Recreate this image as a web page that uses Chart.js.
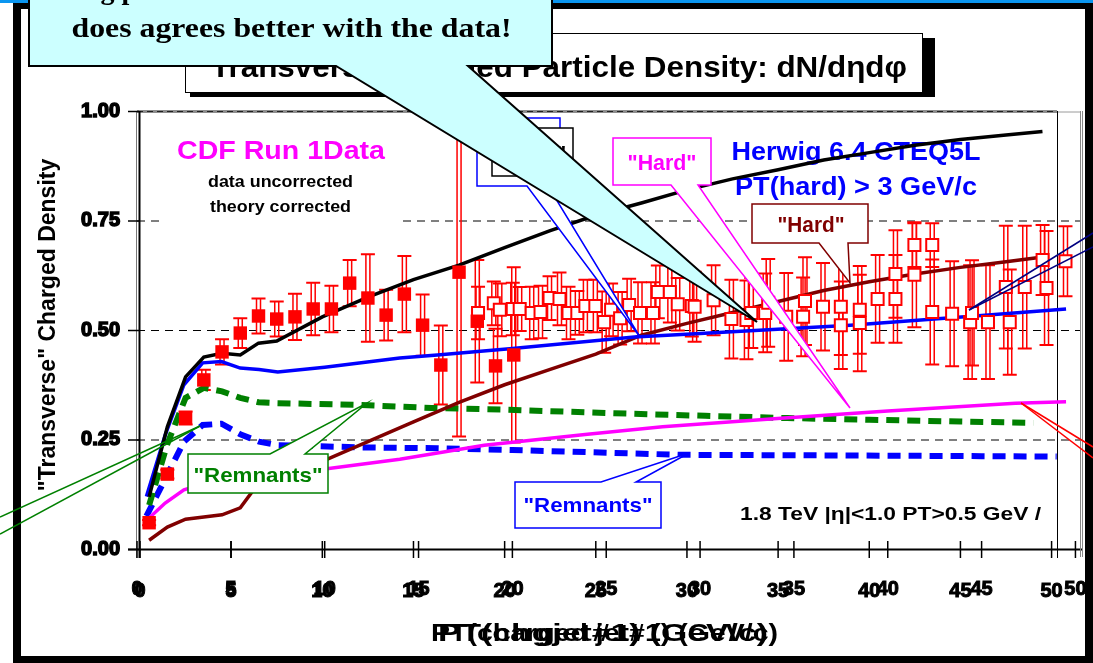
<!DOCTYPE html>
<html>
<head>
<meta charset="utf-8">
<title>Transverse Charged Particle Density</title>
<script src="https://cdn.jsdelivr.net/npm/chart.js@4.4.0/dist/chart.umd.min.js"></script>
<style>
  html, body { margin: 0; padding: 0; background: #fff; overflow: hidden; }
  #wrap { width: 1093px; height: 663px; position: relative; }
  canvas { display: block; }
</style>
</head>
<body>
<div id="wrap"><canvas id="c" width="1093" height="663"></canvas></div>
<script>
// ---------- values ----------
// CDF Run 1 data vs PT(charged jet#1): filled squares
const dataX   = [0.5, 1.5, 2.5, 3.5, 4.5, 5.5, 6.5, 7.5, 8.5, 9.5, 10.5, 11.5, 12.5, 13.5, 14.5, 15.5, 16.5, 17.5, 18.5, 19.5, 20.5];
const dataY   = [0.06, 0.171, 0.299, 0.386, 0.45, 0.493, 0.532, 0.525, 0.53, 0.548, 0.548, 0.607, 0.573, 0.534, 0.582, 0.511, 0.42, 0.632, 0.52, 0.418, 0.443];
const dataErr = [0.006, 0.01, 0.015, 0.023, 0.029, 0.034, 0.04, 0.04, 0.053, 0.06, 0.053, 0.053, 0.1, 0.058, 0.087, 0.07, 0.09, 0.375, 0.14, 0.085, 0.2];

// second data set (open squares), on the overlaid PT axis
const openX = [18.17, 19.01, 19.33, 20.02, 20.39, 21.03, 21.5, 21.98, 22.51, 22.99, 23.46, 23.89, 24.42, 24.89, 25.26, 25.74, 26.22, 26.8, 27.49, 27.75,
               28.39, 28.81, 29.56, 29.71, 30.72, 31.67, 32.47, 32.73, 33.47, 33.63, 34.59, 35.49, 35.59, 36.55, 37.5, 37.5, 38.51, 38.51, 39.46, 40.41,
               40.41, 41.42, 41.42, 42.37, 42.37, 43.43, 44.39, 44.49, 45.34, 46.29, 46.5, 47.3, 48.25, 48.46, 49.47];
const openY = [0.539, 0.561, 0.546, 0.548, 0.548, 0.539, 0.541, 0.573, 0.571, 0.539, 0.539, 0.555, 0.555, 0.518, 0.546, 0.527, 0.557, 0.539, 0.539, 0.587,
               0.587, 0.559, 0.555, 0.553, 0.568, 0.525, 0.523, 0.539, 0.539, 0.562, 0.53, 0.53, 0.566, 0.553, 0.511, 0.553, 0.546, 0.516, 0.571, 0.571,
               0.628, 0.694, 0.626, 0.694, 0.541, 0.537, 0.518, 0.539, 0.518, 0.598, 0.518, 0.598, 0.66, 0.596, 0.657];
const openErr = [0.06, 0.05, 0.06, 0.06, 0.05, 0.06, 0.06, 0.05, 0.06, 0.06, 0.05, 0.06, 0.06, 0.07, 0.06, 0.06, 0.06, 0.07, 0.07, 0.06,
                 0.07, 0.06, 0.07, 0.08, 0.08, 0.09, 0.09, 0.08, 0.09, 0.1, 0.1, 0.09, 0.1, 0.1, 0.1, 0.11, 0.1, 0.11, 0.1, 0.1,
                 0.1, 0.05, 0.12, 0.05, 0.12, 0.12, 0.13, 0.12, 0.13, 0.14, 0.12, 0.14, 0.08, 0.13, 0.08];

// Herwig 6.4 CTEQ5L, PT(hard) > 3 GeV/c : total (black)
const totalX = [0.5, 1.5, 2.5, 3.5, 4.5, 5.5, 6.5, 7.5, 10, 12.5, 15, 17.5, 20, 22.5, 25, 27.5, 30, 32.5, 35, 37.5, 40, 42.5, 45, 47.5, 49.5];
const totalY = [0.119, 0.279, 0.393, 0.438, 0.447, 0.443, 0.47, 0.475, 0.53, 0.575, 0.615, 0.648, 0.688, 0.727, 0.762, 0.79, 0.82, 0.845, 0.866, 0.888, 0.905, 0.922, 0.935, 0.945, 0.953];
// "Hard" component (dark red)
const hardX = [0.5, 1.5, 2.5, 3.5, 4.5, 5.5, 6.5, 8, 10, 12.5, 15, 17.5, 20, 22.5, 25, 27.5, 30, 32.5, 35, 37.5, 40, 42.5, 45, 47.5, 49.2];
const hardY = [0.02, 0.05, 0.068, 0.073, 0.078, 0.094, 0.15, 0.175, 0.2, 0.245, 0.29, 0.335, 0.375, 0.41, 0.445, 0.488, 0.515, 0.54, 0.565, 0.59, 0.61, 0.628, 0.643, 0.656, 0.665];
// "Remnants" component (green, dashed)
const remX = [0.5, 1.5, 2.5, 3.5, 4.5, 5.5, 6.5, 7.5, 12, 16, 20, 26, 31, 35.5, 40, 45, 49];
const remY = [0.1, 0.24, 0.345, 0.368, 0.36, 0.345, 0.335, 0.333, 0.329, 0.322, 0.318, 0.31, 0.304, 0.299, 0.295, 0.291, 0.288];

// second Herwig set on the overlaid PT axis: total (blue)
const total2X = [0.5, 1.5, 2.5, 3.5, 4.5, 5.5, 6.5, 7.5, 10, 14, 16, 20, 26.5, 30, 38, 45, 49.5];
const total2Y = [0.12, 0.26, 0.375, 0.425, 0.428, 0.413, 0.41, 0.404, 0.415, 0.436, 0.443, 0.458, 0.484, 0.492, 0.511, 0.533, 0.548];
// "Hard" (magenta)
const hard2X = [0.5, 1.5, 2.5, 3.5, 5, 9.5, 14, 18.5, 24, 28, 34.5, 40, 46.8, 49.5];
const hard2Y = [0.065, 0.105, 0.135, 0.148, 0.158, 0.18, 0.205, 0.237, 0.262, 0.279, 0.299, 0.315, 0.333, 0.336];
// "Remnants" (blue, dashed)
const rem2X = [0.5, 1.5, 2.5, 3.5, 4.5, 5.5, 6.5, 7.5, 12, 16, 20, 29, 35, 40, 45, 49];
const rem2Y = [0.075, 0.16, 0.245, 0.283, 0.286, 0.262, 0.245, 0.237, 0.232, 0.23, 0.226, 0.215, 0.214, 0.213, 0.212, 0.211];

const xTicks = [0, 5, 10, 15, 20, 25, 30, 35, 40, 45, 50];
const yTicks = [0, 0.25, 0.5, 0.75, 1.0];

// ---------- drawing helpers ----------
const SANS = '"Liberation Sans", Arial, Helvetica, sans-serif';
const SERIF = '"Liberation Serif", "Times New Roman", serif';

function pts(xs, ys) { return xs.map((x, i) => ({ x: x, y: ys[i] })); }

// text of a given size, squeezed/stretched horizontally to a given width
function text(ctx, str, x, y, o) {
  ctx.save();
  ctx.font = (o.weight || 'bold') + ' ' + o.size + 'px ' + (o.family || SANS);
  ctx.fillStyle = o.color || '#000';
  ctx.textBaseline = 'alphabetic';
  ctx.textAlign = 'left';
  const w = ctx.measureText(str).width;
  const sx = o.width ? o.width / w : 1;
  const align = o.align || 'center';
  const left = align === 'center' ? x - w * sx / 2 : (align === 'right' ? x - w * sx : x);
  ctx.translate(left, y);
  ctx.scale(sx, 1);
  ctx.fillText(str, 0, 0);
  ctx.restore();
}

function line(ctx, x0, y0, x1, y1, color, lw, dash) {
  ctx.save();
  ctx.strokeStyle = color; ctx.lineWidth = lw;
  ctx.setLineDash(dash || []);
  ctx.beginPath(); ctx.moveTo(x0, y0); ctx.lineTo(x1, y1); ctx.stroke();
  ctx.restore();
}

// rectangular label box with a pointer leaving its top or bottom edge
function callout(ctx, b, fill, stroke, lw) {
  ctx.save();
  ctx.beginPath();
  if (b.side === 'bottom') {
    ctx.moveTo(b.x0, b.y0); ctx.lineTo(b.x1, b.y0); ctx.lineTo(b.x1, b.y1);
    ctx.lineTo(b.b2, b.y1); ctx.lineTo(b.tip[0], b.tip[1]); ctx.lineTo(b.b1, b.y1);
    ctx.lineTo(b.x0, b.y1);
  } else if (b.side === 'top') {
    ctx.moveTo(b.x0, b.y0); ctx.lineTo(b.b1, b.y0); ctx.lineTo(b.tip[0], b.tip[1]);
    ctx.lineTo(b.b2, b.y0); ctx.lineTo(b.x1, b.y0); ctx.lineTo(b.x1, b.y1); ctx.lineTo(b.x0, b.y1);
  } else {
    ctx.rect(b.x0, b.y0, b.x1 - b.x0, b.y1 - b.y0);
  }
  ctx.closePath();
  ctx.fillStyle = fill; ctx.fill();
  ctx.strokeStyle = stroke; ctx.lineWidth = lw; ctx.lineJoin = 'miter';
  ctx.stroke();
  ctx.restore();
}

function errorBars(ctx, xs, ys, es, xScale, yScale) {
  ctx.save();
  ctx.strokeStyle = '#FF0000';
  ctx.lineWidth = 1.5;
  for (let i = 0; i < xs.length; i++) {
    const px = xScale.getPixelForValue(xs[i]);
    const top = yScale.getPixelForValue(ys[i] + es[i]);
    const bot = yScale.getPixelForValue(ys[i] - es[i]);
    ctx.beginPath();
    ctx.moveTo(px - 2, top); ctx.lineTo(px - 2, bot);
    ctx.moveTo(px + 2, top); ctx.lineTo(px + 2, bot);
    ctx.stroke();
    ctx.save();
    ctx.lineWidth = 2;
    ctx.beginPath();
    ctx.moveTo(px - 7, top); ctx.lineTo(px + 7, top);
    ctx.moveTo(px - 7, bot); ctx.lineTo(px + 7, bot);
    ctx.stroke();
    ctx.restore();
  }
  ctx.restore();
}

// ---------- slide decorations ----------
const slide = {
  id: 'slide',
  beforeDraw(chart) {
    const c = chart.ctx;
    c.save();
    c.fillStyle = '#fff';
    c.fillRect(0, 0, 1093, 663);
    // slide frame
    c.fillStyle = '#0A96F0';
    c.fillRect(0, 0, 1093, 3);
    c.fillStyle = '#000';
    c.fillRect(13, 3, 1080, 6);
    c.fillRect(13, 3, 8, 660);
    c.fillRect(1085, 3, 8, 660);
    c.fillRect(13, 656, 1080, 7);
    c.restore();
  },
  beforeDatasetsDraw(chart) {
    const c = chart.ctx;
    const x = chart.scales.x, x2 = chart.scales.x2, y = chart.scales.y;
    const yPx = v => y.getPixelForValue(v);

    // dashed reference lines
    [0.25, 0.5, 0.75].forEach(v => line(c, 137, yPx(v) + 0.5, 1081, yPx(v) + 0.5, '#000', 1, [8, 6]));
    line(c, 137, yPx(1) + 0.5, 1057, yPx(1) + 0.5, '#8c8c8c', 3);
    line(c, 137, yPx(1) + 0.5, 1057, yPx(1) + 0.5, '#222', 1.2, [6, 4]);
    line(c, 1057, yPx(1) + 1, 1081, yPx(1) + 1, '#9a9a9a', 1);

    // axis frames
    line(c, 136.5, yPx(1), 136.5, 558, '#777', 1);
    line(c, 139.5, yPx(1), 139.5, 558, '#000', 2);
    line(c, 128, yPx(0) + 0.5, 1082, yPx(0) + 0.5, '#000', 2);
    line(c, 1057.5, yPx(1), 1057.5, 558, '#000', 1);
    line(c, 1080.5, yPx(1), 1080.5, 557, '#888', 1);
    line(c, 1082.5, yPx(1), 1082.5, 557, '#888', 1);
    yTicks.forEach(v => line(c, 128, yPx(v) + 0.5, 139, yPx(v) + 0.5, '#000', 1.5));
    xTicks.forEach(v => {
      const p1 = x.getPixelForValue(v), p2 = x2.getPixelForValue(v);
      line(c, p1, 541, p1, 558, '#000', 1.5);
      line(c, p2, 541, p2, 558, '#000', 1.5);
    });

    // CDF label block
    c.save(); c.fillStyle = '#fff'; c.fillRect(163, 118, 235, 110); c.restore();
    text(c, 'CDF Run 1Data', 281, 159, { size: 26, width: 208, color: '#FF00FF' });
    text(c, 'data uncorrected', 280.5, 187, { size: 17, width: 145 });
    text(c, 'theory corrected', 280.5, 212, { size: 17, width: 141 });

    // Herwig label (curves run over it)
    text(c, 'Herwig 6.4 CTEQ5L', 856, 160, { size: 25, width: 249, color: '#0000FF' });
    text(c, 'PT(hard) > 3 GeV/c', 856, 195, { size: 25, width: 242, color: '#0000FF' });

    // error bars
    errorBars(c, dataX, dataY, dataErr, x, y);
    errorBars(c, openX, openY, openErr, x2, y);
  },
  afterDatasetsDraw(chart) {
    const c = chart.ctx;
    const x2 = chart.scales.x2;

    // overlaid tick labels of the second PT axis
    c.save();
    c.font = 'bold 20px ' + SANS;
    c.fillStyle = '#000'; c.strokeStyle = '#000'; c.lineWidth = 1;
    c.textAlign = 'center'; c.textBaseline = 'alphabetic';
    xTicks.forEach(v => {
      const p = x2.getPixelForValue(v);
      c.strokeText(String(v), p, 595);
      c.fillText(String(v), p, 595);
    });
    c.restore();

    // axis titles
    text(c, 'PT(charged jet#1) (GeV/c)', 431, 641, { size: 24, width: 347, align: 'left' });
    text(c, 'PT(chgjet#1) (GeV/c)', 438, 641, { size: 24, width: 330, align: 'left' });
    c.save();
    c.translate(55, 325);
    c.rotate(-Math.PI / 2);
    text(c, '"Transverse" Charged Density', 0, 0, { size: 23 });
    c.restore();

    text(c, '1.8 TeV |\u03b7|<1.0 PT>0.5 GeV /', 740, 520, { size: 19, width: 301, align: 'left' });

    // pointer lines from boxes outside the frame
    line(c, 0, 517, 200, 426, '#008000', 1.5);
    line(c, 0, 534, 200, 426, '#008000', 1.5);
    line(c, 1021, 403, 1093, 447, '#FF0000', 1.5);
    line(c, 1021, 403, 1093, 458, '#FF0000', 1.5);
    line(c, 969, 310, 1093, 233, '#000080', 1.5);
    line(c, 969, 310, 1093, 247, '#000080', 1.5);

    // component labels
    callout(c, { x0: 188, y0: 454, x1: 328, y1: 493, side: 'top', b1: 270, b2: 305, tip: [367, 403] }, '#fff', '#008000', 1.5);
    text(c, '"Remnants"', 258, 482, { size: 21, width: 129, color: '#008000' });
    callout(c, { x0: 515, y0: 482, x1: 661, y1: 528, side: 'top', b1: 601, b2: 636, tip: [689, 453] }, '#fff', '#0000FF', 1.5);
    text(c, '"Remnants"', 588, 512, { size: 21, width: 129, color: '#0000FF' });
    callout(c, { x0: 613, y0: 138, x1: 711, y1: 185, side: 'bottom', b1: 671, b2: 698, tip: [850, 408] }, '#fff', '#FF00FF', 1.5);
    text(c, '"Hard"', 662, 170, { size: 22, width: 69, color: '#FF00FF' });
    callout(c, { x0: 752, y0: 204, x1: 868, y1: 243, side: 'bottom', b1: 819, b2: 848, tip: [850, 283] }, '#fff', '#800000', 1.5);
    text(c, '"Hard"', 811, 232, { size: 22, width: 67, color: '#800000' });
    callout(c, { x0: 477, y0: 118, x1: 560, y1: 186, side: 'bottom', b1: 527, b2: 548, tip: [640, 337] }, '#fff', '#0000FF', 1.5);
    text(c, '"Total"', 518, 160, { size: 21, color: '#0000FF' });
    callout(c, { x0: 492, y0: 128, x1: 573, y1: 176 }, '#fff', '#000', 1.5);
    text(c, '"Total"', 532, 160, { size: 21, color: '#000' });
  },
  afterDraw(chart) {
    const c = chart.ctx;
    // title box with drop shadow
    c.save();
    c.fillStyle = '#000';
    c.fillRect(190, 38, 745, 59);
    c.fillStyle = '#fff';
    c.fillRect(185, 33, 737, 59);
    c.strokeStyle = '#000'; c.lineWidth = 1;
    c.strokeRect(185.5, 33.5, 737, 59);
    c.restore();
    text(c, 'Transverse Charged Particle Density: dN/d\u03b7d\u03c6', 211, 77, { size: 30, width: 696, align: 'left' });

    // comment balloon
    callout(c, { x0: 29, y0: -6, x1: 552, y1: 66, side: 'bottom', b1: 336, b2: 468, tip: [757, 322] }, '#CCFFFF', '#000', 2);
    text(c, 'Using pT > 3 GeV', 46, -1, { size: 28, family: SERIF, align: 'left' });
    text(c, 'does agrees better with the data!', 291.5, 37, { size: 28, width: 440, family: SERIF });
  }
};

// ---------- chart ----------
function curve(label, xs, ys, axis, color, width, dash, order) {
  return {
    label: label, data: pts(xs, ys), xAxisID: axis, yAxisID: 'y',
    showLine: true, borderColor: color, backgroundColor: color, borderWidth: width,
    borderDash: dash || [], pointRadius: 0, pointHoverRadius: 0, tension: 0, fill: false,
    order: order, clip: false
  };
}

const tickFont = { family: SANS, size: 20, weight: 'bold' };

new Chart(document.getElementById('c'), {
  type: 'scatter',
  data: {
    datasets: [
      {
        label: 'CDF data', data: pts(dataX, dataY), xAxisID: 'x', yAxisID: 'y',
        pointStyle: 'rect', pointRadius: 9.5, pointHoverRadius: 9.5,
        backgroundColor: '#FF0000', borderColor: '#FF0000', borderWidth: 0, order: 0, clip: false
      },
      {
        label: 'CDF data (chgjet)', data: pts(openX, openY), xAxisID: 'x2', yAxisID: 'y',
        pointStyle: 'rect', pointRadius: 8.5, pointHoverRadius: 8.5,
        backgroundColor: '#FFFFFF', borderColor: '#FF0000', borderWidth: 2, order: 0, clip: false
      },
      curve('Total', totalX, totalY, 'x', '#000000', 3.5, null, 2),
      curve('Total (2)', total2X, total2Y, 'x2', '#0000FF', 3.5, null, 3),
      curve('Hard', hardX, hardY, 'x', '#800000', 3.5, null, 4),
      curve('Hard (2)', hard2X, hard2Y, 'x2', '#FF00FF', 3.5, null, 5),
      curve('Remnants', remX, remY, 'x', '#008000', 6, [13, 8], 6),
      curve('Remnants (2)', rem2X, rem2Y, 'x2', '#0000FF', 6, [13, 8], 7)
    ]
  },
  options: {
    responsive: false,
    devicePixelRatio: 1,
    animation: false,
    events: [],
    layout: { padding: { top: 111, right: 11, left: 0, bottom: 0 } },
    plugins: { legend: { display: false }, tooltip: { enabled: false }, title: { display: false } },
    scales: {
      x: {
        type: 'linear', position: 'bottom', min: 0, max: 51.363,
        afterFit(s) { s.height = 114; },
        afterBuildTicks(s) { s.ticks = xTicks.map(v => ({ value: v })); },
        ticks: {
          font: tickFont, color: '#000', textStrokeColor: '#000', textStrokeWidth: 1,
          padding: 30, maxRotation: 0, autoSkip: false, includeBounds: false,
          callback: v => String(v)
        },
        grid: { display: false, drawTicks: false },
        border: { display: false }
      },
      x2: { type: 'linear', display: false, min: 0.159, max: 50.053 },
      y: {
        type: 'linear', min: 0, max: 1,
        afterFit(s) { s.width = 140; },
        afterBuildTicks(s) { s.ticks = yTicks.map(v => ({ value: v })); },
        ticks: {
          font: tickFont, color: '#000', textStrokeColor: '#000', textStrokeWidth: 1.5,
          padding: 20, callback: v => Number(v).toFixed(2)
        },
        grid: { display: false, drawTicks: false },
        border: { display: false }
      }
    }
  },
  plugins: [slide]
});
</script>
</body>
</html>
